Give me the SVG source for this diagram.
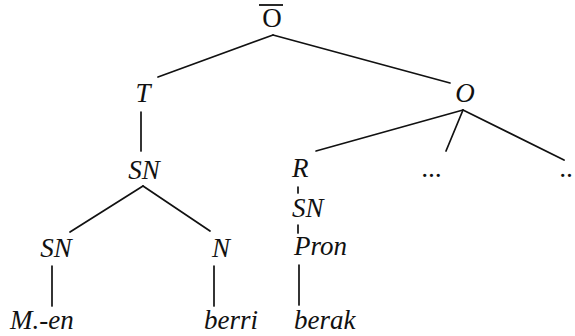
<svg xmlns="http://www.w3.org/2000/svg" width="575" height="336" viewBox="0 0 575 336">
<style>
.t{font-style:italic;font-size:27px;fill:#111}
.m{text-anchor:middle}
.e line{stroke:#111;stroke-width:1.7;stroke-linecap:round}
</style>
<rect width="575" height="336" fill="#fff"/>
<g class="e" id="connectors">
<line x1="273" y1="35" x2="158" y2="77"/>
<line x1="273" y1="35" x2="450" y2="83"/>
<line x1="141" y1="112" x2="141" y2="151"/>
<line x1="143" y1="186" x2="70" y2="232"/>
<line x1="143" y1="186" x2="210" y2="231"/>
<line x1="52" y1="266" x2="52" y2="306"/>
<line x1="214" y1="266" x2="214" y2="306"/>
<line x1="463" y1="110" x2="316" y2="151"/>
<line x1="463" y1="110" x2="446" y2="151"/>
<line x1="463" y1="110" x2="564" y2="160"/>
<line x1="298" y1="187" x2="298" y2="193"/>
<line x1="298" y1="225" x2="298" y2="233"/>
<line x1="299" y1="265" x2="299" y2="305"/>
</g>
<g class="t" font-family="Liberation Serif, serif">
<g id="Obar"><text class="m" x="272" y="27" font-style="normal" style="font-style:normal">O</text><line x1="259" y1="5" x2="283" y2="5" stroke="#111" stroke-width="1.8"/></g>
<g id="T"><text class="m" x="143" y="102">T</text></g>
<g id="SN1"><text class="m" x="144" y="179">SN</text></g>
<g id="O"><text class="m" x="465" y="102">O</text></g>
<g id="R"><text x="292" y="177">R</text></g>
<g id="dots1"><text x="422" y="177">...</text></g>
<g id="dots2"><text x="560" y="177">..</text></g>
<g id="SN2"><text class="m" x="56" y="257">SN</text></g>
<g id="N"><text class="m" x="221" y="257">N</text></g>
<g id="SN3"><text x="292" y="217">SN</text></g>
<g id="Pron"><text x="294" y="255">Pron</text></g>
<g id="Men"><text x="10" y="329">M.-en</text></g>
<g id="berri"><text x="204" y="329">berri</text></g>
<g id="berak"><text x="294" y="329">berak</text></g>
</g>
</svg>
